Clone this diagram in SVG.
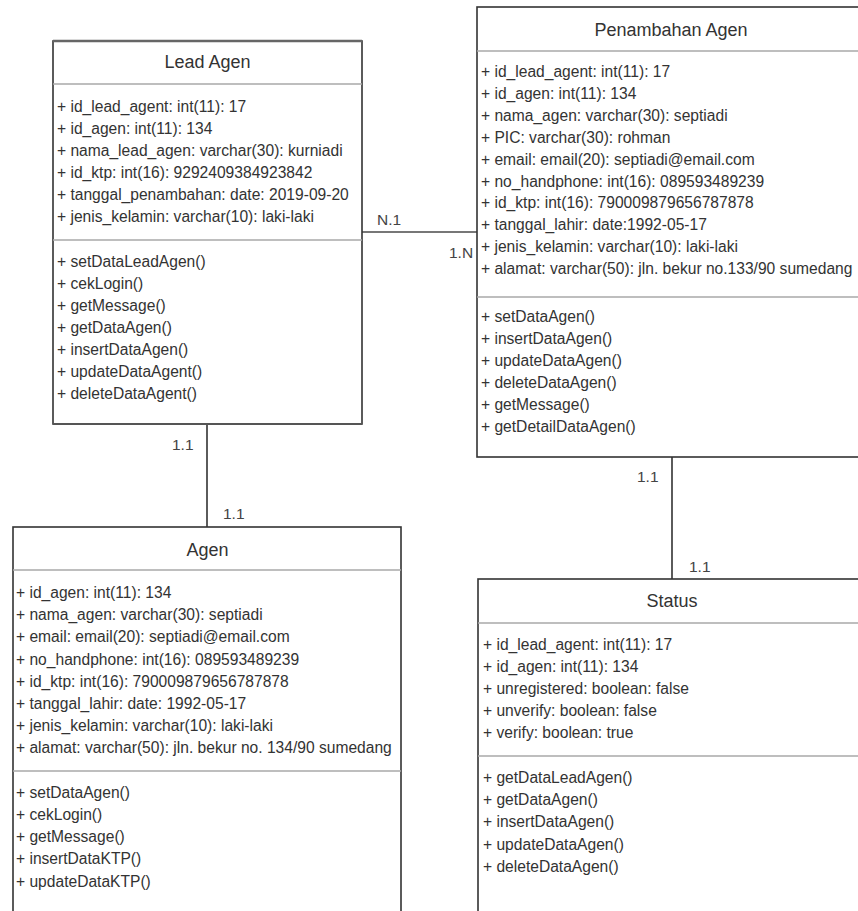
<svg xmlns="http://www.w3.org/2000/svg" width="858" height="911" viewBox="0 0 858 911">
<style>
.box{fill:#fff;stroke:#333;stroke-width:1.6}
.sep{stroke:#a8a8a8;stroke-width:1.6}
.title{font-family:"Liberation Sans",Arial,sans-serif;font-size:18px;fill:#333;text-anchor:middle}
.t{font-family:"Liberation Sans",Arial,sans-serif;font-size:15.6px;fill:#333}
.lbl{font-family:"Liberation Sans",Arial,sans-serif;font-size:15.5px;fill:#444}
.conn{stroke:#333;stroke-width:1.6;fill:none}
.conn2{stroke:#777;stroke-width:2.2;fill:none}
</style>
<rect width="858" height="911" fill="#fff"/>
<g id="connectors">
<line class="conn2" x1="362" y1="232" x2="477" y2="232"/>
<line class="conn" x1="207" y1="424" x2="207" y2="527"/>
<line class="conn" x1="672" y1="457" x2="672" y2="579"/>
<text class="lbl" x="377" y="225">N.1</text>
<text class="lbl" x="449" y="258">1.N</text>
<text class="lbl" x="172" y="450">1.1</text>
<text class="lbl" x="223" y="519">1.1</text>
<text class="lbl" x="637" y="482">1.1</text>
<text class="lbl" x="689" y="572">1.1</text>
</g>
<g id="lead-agen">
<rect class="box" x="53" y="41" width="309" height="383"/>
<line x1="53" y1="41" x2="362" y2="41" stroke="#666" stroke-width="2.5"/>
<line x1="53" y1="424" x2="362" y2="424" stroke="#555" stroke-width="2.2"/>
<line class="sep" x1="53" y1="84" x2="362" y2="84"/>
<line class="sep" x1="53" y1="240" x2="362" y2="240"/>
<text class="title" x="207.5" y="68">Lead Agen</text>
<text class="t" x="57" y="112">+ id_lead_agent: int(11): 17</text>
<text class="t" x="57" y="134">+ id_agen: int(11): 134</text>
<text class="t" x="57" y="156">+ nama_lead_agen: varchar(30): kurniadi</text>
<text class="t" x="57" y="178">+ id_ktp: int(16): 9292409384923842</text>
<text class="t" x="57" y="200">+ tanggal_penambahan: date: 2019-09-20</text>
<text class="t" x="57" y="222">+ jenis_kelamin: varchar(10): laki-laki</text>
<text class="t" x="57" y="267">+ setDataLeadAgen()</text>
<text class="t" x="57" y="289">+ cekLogin()</text>
<text class="t" x="57" y="311">+ getMessage()</text>
<text class="t" x="57" y="333">+ getDataAgen()</text>
<text class="t" x="57" y="355">+ insertDataAgen()</text>
<text class="t" x="57" y="377">+ updateDataAgent()</text>
<text class="t" x="57" y="399">+ deleteDataAgent()</text>
</g>
<g id="penambahan-agen">
<rect class="box" x="477" y="7" width="390" height="450"/>
<line class="sep" x1="477" y1="51" x2="867" y2="51"/>
<line class="sep" x1="477" y1="297" x2="867" y2="297"/>
<text class="title" x="671" y="36">Penambahan Agen</text>
<text class="t" x="481" y="77">+ id_lead_agent: int(11): 17</text>
<text class="t" x="481" y="99">+ id_agen: int(11): 134</text>
<text class="t" x="481" y="121">+ nama_agen: varchar(30): septiadi</text>
<text class="t" x="481" y="143">+ PIC: varchar(30): rohman</text>
<text class="t" x="481" y="165">+ email: email(20): septiadi@email.com</text>
<text class="t" x="481" y="187">+ no_handphone: int(16): 089593489239</text>
<text class="t" x="481" y="208">+ id_ktp: int(16): 790009879656787878</text>
<text class="t" x="481" y="230">+ tanggal_lahir: date:1992-05-17</text>
<text class="t" x="481" y="252">+ jenis_kelamin: varchar(10): laki-laki</text>
<text class="t" x="481" y="274">+ alamat: varchar(50): jln. bekur no.133/90 sumedang</text>
<text class="t" x="481" y="322">+ setDataAgen()</text>
<text class="t" x="481" y="344">+ insertDataAgen()</text>
<text class="t" x="481" y="366">+ updateDataAgen()</text>
<text class="t" x="481" y="388">+ deleteDataAgen()</text>
<text class="t" x="481" y="410">+ getMessage()</text>
<text class="t" x="481" y="432">+ getDetailDataAgen()</text>
</g>
<g id="agen">
<rect class="box" x="13" y="527" width="388" height="400"/>
<line class="sep" x1="13" y1="570" x2="401" y2="570"/>
<line class="sep" x1="13" y1="771" x2="401" y2="771"/>
<text class="title" x="207.5" y="556">Agen</text>
<text class="t" x="16" y="598">+ id_agen: int(11): 134</text>
<text class="t" x="16" y="620">+ nama_agen: varchar(30): septiadi</text>
<text class="t" x="16" y="642">+ email: email(20): septiadi@email.com</text>
<text class="t" x="16" y="665">+ no_handphone: int(16): 089593489239</text>
<text class="t" x="16" y="687">+ id_ktp: int(16): 790009879656787878</text>
<text class="t" x="16" y="709">+ tanggal_lahir: date: 1992-05-17</text>
<text class="t" x="16" y="731">+ jenis_kelamin: varchar(10): laki-laki</text>
<text class="t" x="16" y="753">+ alamat: varchar(50): jln. bekur no. 134/90 sumedang</text>
<text class="t" x="16" y="798">+ setDataAgen()</text>
<text class="t" x="16" y="820">+ cekLogin()</text>
<text class="t" x="16" y="842">+ getMessage()</text>
<text class="t" x="16" y="864">+ insertDataKTP()</text>
<text class="t" x="16" y="887">+ updateDataKTP()</text>
</g>
<g id="status">
<rect class="box" x="478" y="579" width="388" height="350"/>
<line class="sep" x1="478" y1="623" x2="866" y2="623"/>
<line class="sep" x1="478" y1="756" x2="866" y2="756"/>
<text class="title" x="672" y="607">Status</text>
<text class="t" x="483" y="650">+ id_lead_agent: int(11): 17</text>
<text class="t" x="483" y="672">+ id_agen: int(11): 134</text>
<text class="t" x="483" y="694">+ unregistered: boolean: false</text>
<text class="t" x="483" y="716">+ unverify: boolean: false</text>
<text class="t" x="483" y="738">+ verify: boolean: true</text>
<text class="t" x="483" y="783">+ getDataLeadAgen()</text>
<text class="t" x="483" y="805">+ getDataAgen()</text>
<text class="t" x="483" y="827">+ insertDataAgen()</text>
<text class="t" x="483" y="850">+ updateDataAgen()</text>
<text class="t" x="483" y="872">+ deleteDataAgen()</text>
</g>
</svg>
